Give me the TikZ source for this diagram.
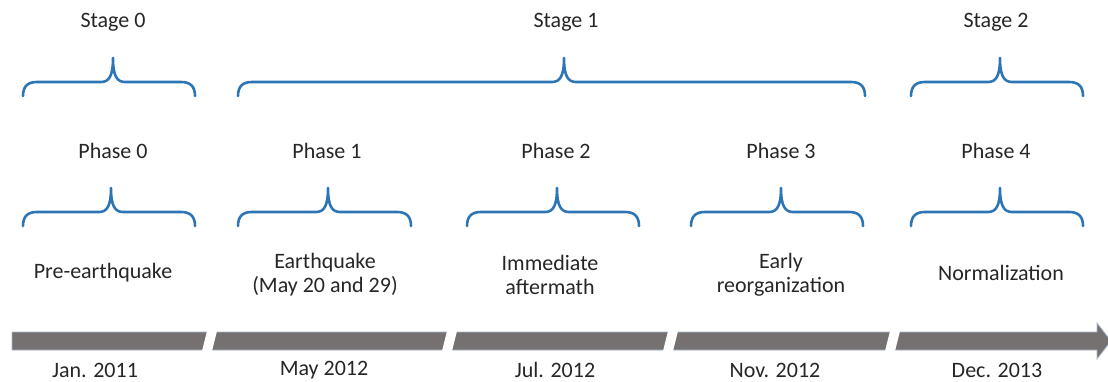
\documentclass[tikz,border=0pt]{standalone}
\usepackage{fontspec}
\setmainfont{Carlito}
\usepackage{xcolor}
\usetikzlibrary{positioning}

\definecolor{braceblue}{HTML}{2E75B6}
\definecolor{bargray}{HTML}{767171}
\definecolor{baredge}{HTML}{A9B8CF}
\definecolor{textgray}{HTML}{262626}

% curly brace: left x, middle x, right x, height of its straight part
\newcommand{\curlybrace}[4]{%
  \draw[curl] (#1,#4+14) .. controls (#1,#4+4) and (#1+5,#4) .. (#1+14,#4)
    -- (#2-12,#4) .. controls (#2-4,#4) and (#2,#4-6) .. (#2,#4-24)
    .. controls (#2,#4-6) and (#2+4,#4) .. (#2+12,#4)
    -- (#3-14,#4) .. controls (#3-5,#4) and (#3,#4+4) .. (#3,#4+14);}

\begin{document}
\begin{tikzpicture}[x=1pt, y=-1pt, font=\fontsize{22}{24}\selectfont, text=textgray,
    curl/.style={draw=braceblue, line width=2.6pt, line cap=round, line join=round},
    lbl/.style={align=center, inner sep=0pt}]
    \useasboundingbox (0,0) rectangle (1108,382);

    % Stages
    \node[lbl] (stage0) at (113,22) {Stage 0};
    \node[lbl] (stage1) at (566,22) {Stage 1};
    \node[lbl] (stage2) at (996,22) {Stage 2};
    \curlybrace{23}{113}{195}{82}
    \curlybrace{238}{564}{865}{82}
    \curlybrace{911}{1000}{1083}{82}

    % Phases
    \node[lbl] (phase0) at (113,151) {Phase 0};
    \node[lbl] (phase1) at (327,151) {Phase 1};
    \node[lbl] (phase2) at (556,151) {Phase 2};
    \node[lbl] (phase3) at (781,151) {Phase 3};
    \node[lbl] (phase4) at (996,151) {Phase 4};
    \curlybrace{23}{111}{195}{212}
    \curlybrace{238}{328}{411}{212}
    \curlybrace{467}{557}{639}{212}
    \curlybrace{691}{781}{863}{212}
    \curlybrace{911}{1000}{1083}{212}

    % Events
    \node[lbl] (pre) at (103,273) {Pre-earthquake};
    \node[lbl] (quake) at (325,275) {Earthquake\\(May 20 and 29)};
    \node[lbl] (after) at (550,275) {Immediate\\aftermath};
    \node[lbl] (reorg) at (781,275) {Early\\reorganization};
    \node[lbl] (normal) at (1001,273) {Normalization};

    % Time line
    \filldraw[fill=bargray, draw=baredge, line width=0.8pt]
      (12,332) -- (1097,332) -- (1097,323) -- (1111,341) -- (1097,359)
      -- (1097,350) -- (12,350) -- cycle;
    \fill[white] (202,351) -- (212,351) -- (217,331) -- (207,331) -- cycle;
    \fill[white] (442,351) -- (452,351) -- (457,331) -- (447,331) -- cycle;
    \fill[white] (663,351) -- (673,351) -- (678,331) -- (668,331) -- cycle;
    \fill[white] (885,351) -- (895,351) -- (900,331) -- (890,331) -- cycle;

    % Dates
    \node[lbl] (jan11) at (95,370) {Jan. 2011};
    \node[lbl] (may12) at (324,370) {May 2012};
    \node[lbl] (jul12) at (555,370) {Jul. 2012};
    \node[lbl] (nov12) at (775,370) {Nov. 2012};
    \node[lbl] (dec13) at (997,370) {Dec. 2013};
\end{tikzpicture}
\end{document}
